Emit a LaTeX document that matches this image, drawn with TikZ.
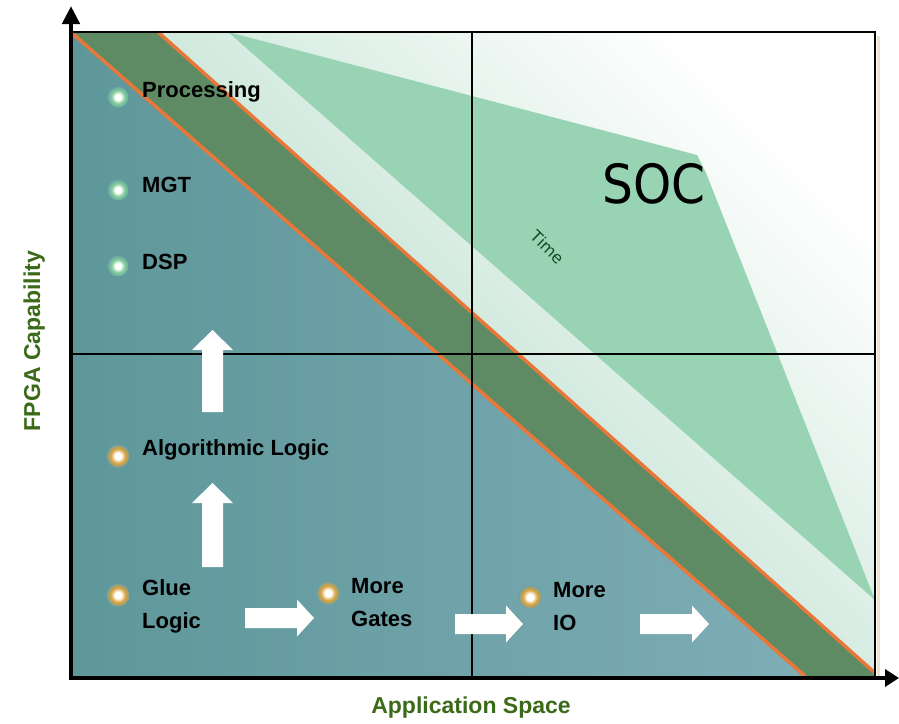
\documentclass[tikz,border=0pt]{standalone}
\usepackage{fontspec}
\setmainfont{Liberation Sans}
\newfontfamily\socfont[FakeStretch=0.9]{DejaVu Sans}
\newfontfamily\timefont{DejaVu Sans}
\usetikzlibrary{arrows.meta}
\definecolor{paleG}{HTML}{A9D6C1}
\definecolor{midG}{HTML}{98D4B4}
\definecolor{bandG}{HTML}{5E8B63}
\definecolor{tealA}{HTML}{5E979A}
\definecolor{tealB}{HTML}{7EADB6}
\definecolor{bgteal}{HTML}{6CA0A5}
\definecolor{orangeL}{HTML}{E8783A}
\definecolor{axisG}{HTML}{3B6A18}
\definecolor{timeG}{HTML}{134A20}
\definecolor{dotO}{HTML}{D9A23C}
\definecolor{dotG}{HTML}{7CCB98}
\definecolor{shadowT}{HTML}{EEE3C9}
\pgfdeclareradialshading{glowO}{\pgfpoint{0bp}{0bp}}{color(0bp)=(white); color(7bp)=(white); color(16bp)=(dotO); color(21bp)=(dotO!60!bgteal); color(25bp)=(bgteal); color(50bp)=(bgteal)}
\pgfdeclareradialshading{glowG}{\pgfpoint{0bp}{0bp}}{color(0bp)=(white); color(7bp)=(white); color(16bp)=(dotG); color(21bp)=(dotG!60!bgteal); color(25bp)=(bgteal); color(50bp)=(bgteal)}
\newcommand\harrowshape[3]{%
  \fill[white] (#1,#2-10) -- (#3-17,#2-10) -- (#3-17,#2-18.5) -- (#3,#2) -- (#3-17,#2+18.5) -- (#3-17,#2+10) -- (#1,#2+10) -- cycle;}
\newcommand\varrowshape[3]{%
  \fill[white] (#1-10.5,#2) -- (#1-10.5,#3+20) -- (#1-20.5,#3+20) -- (#1,#3) -- (#1+20.5,#3+20) -- (#1+10.5,#3+20) -- (#1+10.5,#2) -- cycle;}
\begin{document}
\begin{tikzpicture}[x=1pt,y=-1pt,
  lbl/.style={font=\bfseries\fontsize{22}{24}\selectfont, anchor=base west, inner sep=0pt, text=black},
  axlbl/.style={font=\bfseries\fontsize{23}{25}\selectfont, anchor=base, inner sep=0pt, text=axisG},
  dotor/.style={circle, minimum size=23pt, inner sep=0pt, shading=glowO},
  dotgr/.style={circle, minimum size=21pt, inner sep=0pt, shading=glowG},
  orangeline/.style={draw=orangeL, line width=3.5pt},
  gridline/.style={draw=black, line width=1.2pt},
  axisline/.style={draw=black, line width=4.5pt}]
\useasboundingbox (0,0) rectangle (899,723);
\fill[white] (0,0) rectangle (899,723);
% key coordinates
\coordinate (tl) at (73,32);
\coordinate (tr) at (875,32);
\coordinate (br) at (875,676);
\coordinate (bl) at (73,676);
\coordinate (ou1) at (158,32);
\coordinate (ou2) at (875,673);
\coordinate (ol1) at (73,34);
\coordinate (ol2) at (805,676);
\coordinate (s1) at (228,32);
\coordinate (s2) at (697,155);
\coordinate (s3) at (706,173);
\coordinate (s4) at (875,600);
% pale region
\shade[top color=white, bottom color=paleG, shading angle=-45] (ou1) -- (tr) -- (ou2) -- cycle;
% SOC region
\fill[midG] (s1) -- (s2) -- (s3) -- (s4) -- cycle;
% dark band
\fill[bandG] (tl) -- (ou1) -- (ou2) -- (br) -- (ol2) -- (ol1) -- cycle;
% blue region
\shade[left color=tealA, right color=tealB] (ol1) -- (ol2) -- (bl) -- cycle;
% orange lines
\draw[orangeline] (ol1) -- (ol2);
\draw[orangeline] (ou1) -- (ou2);
% grid and frame
\coordinate (vm1) at (472,32);
\coordinate (vm2) at (472,676);
\coordinate (hm1) at (73,354);
\coordinate (hm2) at (875,354);
\draw[gridline] (vm1) -- (vm2);
\draw[gridline] (hm1) -- (hm2);
\draw[shadowT, line width=3pt] (878,36) -- (878,676);
\draw[gridline] (tl) -- (tr) -- (br);
% axes
\coordinate (ytip) at (71,6);
\coordinate (xtip) at (899,678);
\coordinate (ybase) at (71,680.25);
\coordinate (xbase) at (68.75,678);
\draw[axisline, -{Triangle[length=18pt,width=17pt]}] (ybase) -- (ytip);
\draw[axisline, -{Triangle[length=14pt,width=17pt]}] (xbase) -- (xtip);
% axis labels
\node[axlbl] (xlab) at (471,713) {Application Space};
\node[axlbl, rotate=90] (ylab) at (40,341) {FPGA Capability};
% SOC and Time
\node[font=\socfont\fontsize{54}{56}\selectfont, anchor=base, inner sep=0pt] (soc) at (654,203) {SOC};
\node[font=\timefont\fontsize{16}{18}\selectfont, text=timeG, rotate=-44, inner sep=0pt] (time) at (548,247) {Time};
% labels
\node[lbl] (proc) at (142,97) {Processing};
\node[lbl] (mgt) at (142,192) {MGT};
\node[lbl] (dsp) at (142,269) {DSP};
\node[lbl] (alg) at (142,455) {Algorithmic Logic};
\node[lbl] (glue1) at (142,595) {Glue};
\node[lbl] (glue2) at (142,628) {Logic};
\node[lbl] (gates1) at (351,593) {More};
\node[lbl] (gates2) at (351,626) {Gates};
\node[lbl] (io1) at (553,597) {More};
\node[lbl] (io2) at (553,630) {IO};
% dots
\node[dotgr] (dproc) at (118,97) {};
\node[dotgr] (dmgt) at (118,190) {};
\node[dotgr] (ddsp) at (118,266) {};
\node[dotor] (dalg) at (118,456) {};
\node[dotor] (dglue) at (118,595) {};
\node[dotor] (dgates) at (328,593) {};
\node[dotor] (dio) at (530,597) {};
% white block arrows
\varrowshape{212.5}{412}{330}
\varrowshape{212.5}{567}{483}
\harrowshape{245}{618}{314}
\harrowshape{455}{624}{523}
\harrowshape{640}{624}{709}
\end{tikzpicture}
\end{document}
